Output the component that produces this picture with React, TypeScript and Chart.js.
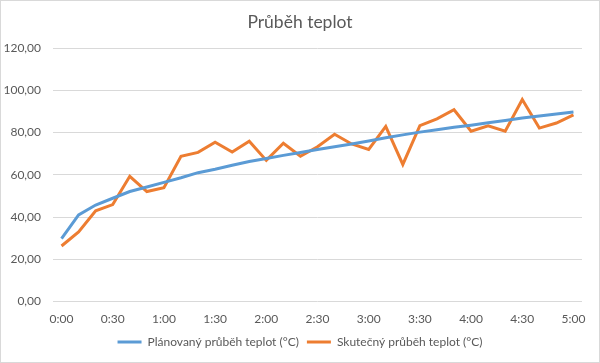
import React, { useEffect, useRef } from "react";
import { Chart, registerables } from "chart.js";

Chart.register(...registerables);

const categories = [
  "0:00", "0:10", "0:20", "0:30", "0:40", "0:50", "1:00", "1:10", "1:20", "1:30", "1:40",
  "1:50", "2:00", "2:10", "2:20", "2:30", "2:40", "2:50", "3:00", "3:10", "3:20",
  "3:30", "3:40", "3:50", "4:00", "4:10", "4:20", "4:30", "4:40", "4:50", "5:00",
];

const planned = [
  29.8, 41, 45.7, 48.9, 52.1, 54.2, 56.4, 58.6, 61, 62.6, 64.5,
  66.3, 67.7, 69.2, 70.6, 72, 73.3, 74.6, 76, 77.5, 78.9,
  80.2, 81.3, 82.5, 83.5, 84.6, 85.7, 86.9, 87.8, 88.8, 89.7,
];

const actual = [
  26.3, 33, 43, 45.9, 59.3, 52.1, 53.9, 68.8, 70.6, 75.4, 70.8,
  75.9, 66.8, 74.9, 68.8, 73.3, 79.2, 74.6, 72, 82.9, 64.9,
  83.3, 86.5, 90.8, 80.6, 83.2, 80.6, 95.6, 82.1, 84.5, 88.4,
];

const shownTicks = ["0:00", "0:30", "1:00", "1:30", "2:00", "2:30", "3:00", "3:30", "4:00", "4:30", "5:00"];

const seriesNames = ["Plánovaný průběh teplot (°C)", "Skutečný průběh teplot (°C)"];
const titleText = "Průběh teplot";

export default function App() {
  const ref = useRef<HTMLCanvasElement>(null);
  useEffect(() => {
    document.body.style.margin = "0";
    const font = "Lato, 'Open Sans', sans-serif";
    const chart = new Chart(ref.current!, {
      type: "line",
      data: {
        labels: categories,
        datasets: [
          {
            label: seriesNames[0],
            data: planned,
            borderColor: "#5b9bd5",
            backgroundColor: "#5b9bd5",
            borderWidth: 3,
            pointRadius: 0,
            tension: 0,
          },
          {
            label: seriesNames[1],
            data: actual,
            borderColor: "#ed7d31",
            backgroundColor: "#ed7d31",
            borderWidth: 3,
            pointRadius: 0,
            tension: 0,
          },
        ],
      },
      options: {
        responsive: false,
        animation: false,
        layout: { padding: { left: 0, right: 0, top: 0, bottom: 4 } },
        plugins: {
          title: {
            display: true,
            text: titleText,
            color: "#595959",
            font: { family: font, size: 17.5, weight: "normal" },
            padding: { top: 11, bottom: 15 },
          },
          legend: {
            position: "bottom",
            labels: {
              color: "#595959",
              font: { family: font, size: 12 },
              boxWidth: 24,
              boxHeight: 3,
              padding: 8,
              generateLabels: (c: any) =>
                c.data.datasets.map((d: any, i: number) => ({
                  text: d.label,
                  fillStyle: d.borderColor,
                  strokeStyle: d.borderColor,
                  lineWidth: 0,
                  fontColor: "#595959",
                  datasetIndex: i,
                  hidden: false,
                })),
            },
          },
          tooltip: { enabled: false },
        },
        scales: {
          x: {
            offset: true,
            grid: { display: false },
            border: { display: false },
            ticks: {
              autoSkip: false,
              maxRotation: 0,
              color: "#595959",
              font: { family: font, size: 12 },
              padding: 2,
              callback: (_v: any, i: number) =>
                shownTicks.includes(categories[i]) ? categories[i] : "",
            },
          },
          y: {
            min: 0,
            max: 120,
            afterFit: (s: any) => {
              s.width = 52;
            },
            grid: { color: "#d9d9d9", drawTicks: false },
            border: { display: false },
            ticks: {
              stepSize: 20,
              color: "#595959",
              font: { family: font, size: 12 },
              padding: 12,
              callback: (v: any) => Number(v).toFixed(2).replace(".", ","),
            },
          },
          spacer: {
            position: "right",
            display: true,
            afterFit: (s: any) => {
              s.width = 17;
            },
            grid: { display: false },
            border: { display: false },
            ticks: { display: false },
          },
        },
      },
    });
    return () => chart.destroy();
  }, []);
  return (
    <div style={{ width: 600, height: 363, position: "relative", boxSizing: "border-box", border: "1px solid #d9d9d9", background: "#fff" }}>
      <canvas ref={ref} width={598} height={361} />
    </div>
  );
}
